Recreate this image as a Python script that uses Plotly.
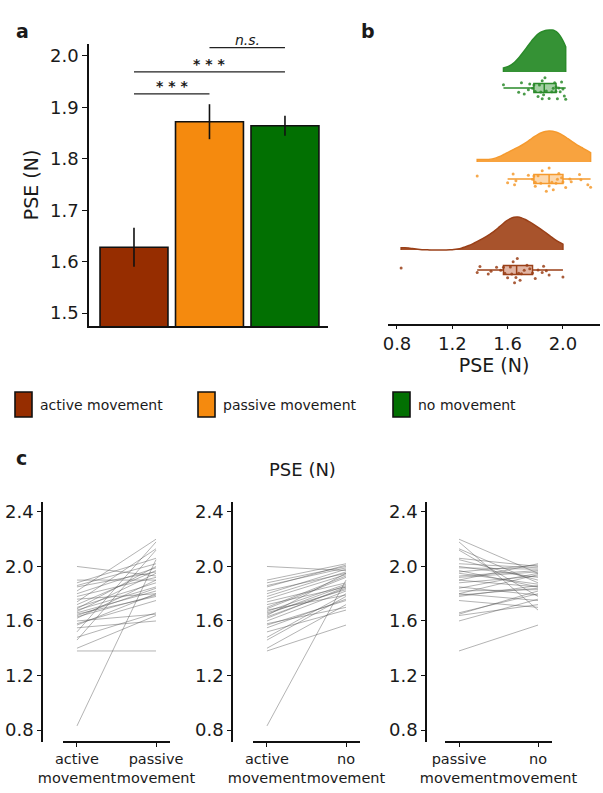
import plotly.graph_objects as go

# ---------------- data ----------------
conditions = ["active movement", "passive movement", "no movement"]
bar_colors = ["#962d00", "#f58a0e", "#027002"]
violin_fill = ["#a8532c", "#f8a33f", "#359235"]
violin_line = ["#9a4018", "#f59a2e", "#2a8a2a"]
box_fill = ["rgba(200,120,90,0.55)", "rgba(250,190,120,0.6)", "rgba(90,170,90,0.55)"]

mean_pse = [1.628, 1.872, 1.864]
sem_pse = [0.038, 0.034, 0.0195]

sig_pairs = [(0, 1), (0, 2), (1, 2)]
sig_levels = [1.926, 1.969, 2.016]
sig_labels = ["<b>* * *</b>", "<b>* * *</b>", "<i>n.s.</i>"]

active = [0.83, 1.38, 1.40, 1.46, 1.48, 1.52, 1.55, 1.57, 1.58, 1.60,
          1.62, 1.63, 1.64, 1.65, 1.66, 1.67, 1.68, 1.69, 1.70, 1.72,
          1.74, 1.76, 1.78, 1.80, 1.82, 1.85, 1.86, 1.88, 1.90, 2.00]
passive = [2.05, 1.38, 1.64, 2.12, 1.66, 2.18, 1.60, 1.80, 1.75, 1.65,
           1.90, 1.79, 1.84, 1.78, 1.82, 1.95, 1.85, 2.00, 1.88, 1.97,
           2.13, 1.80, 1.92, 1.99, 2.20, 1.96, 2.02, 2.06, 1.90, 1.93]
nomove = [1.90, 1.57, 1.72, 1.78, 1.80, 1.68, 1.76, 1.75, 1.70, 1.82,
          1.85, 1.84, 1.95, 1.86, 1.83, 1.87, 1.79, 1.92, 1.93, 1.85,
          1.88, 1.94, 1.96, 1.98, 1.95, 2.01, 1.99, 2.00, 2.02, 1.97]
per_condition = [active, passive, nomove]

pair_panels = [(0, 1), (0, 2), (1, 2)]
pair_ticktext = [["active<br>movement", "passive<br>movement"],
                 ["active<br>movement", "no<br>movement"],
                 ["passive<br>movement", "no<br>movement"]]

c_yticks = [0.8, 1.2, 1.6, 2.0, 2.4]
a_yticks = [1.5, 1.6, 1.7, 1.8, 1.9, 2.0]
b_xticks = [0.8, 1.2, 1.6, 2.0]

# ---------------- layout helpers ----------------
W, H = 603, 793
FONT = "DejaVu Sans"
TXT = "#1a1a1a"


def fx(px):
    return px / W


def fy(py):
    return 1 - py / H


fig = go.Figure()

# ---------------- panel a: bars ----------------
fig.add_trace(go.Bar(
    x=[0, 1, 2], y=mean_pse, width=0.9,
    marker=dict(color=bar_colors, line=dict(color="#111", width=1.6)),
    error_y=dict(type="data", array=sem_pse, color="#111", thickness=1.6, width=0),
    xaxis="x", yaxis="y", showlegend=False))

# ---------------- panel b: raincloud ----------------
violin_pos = [74, 162, 252]
violin_width = [66, 62, 84]
box_pos = [54, 145, 236]
for i, vals in enumerate(per_condition):
    fig.add_trace(go.Violin(
        x=vals, y0=violin_pos[i], orientation="h", side="positive",
        width=violin_width[i],
        spanmode="hard", points=False, box_visible=False, meanline_visible=False,
        fillcolor=violin_fill[i], line=dict(color=violin_line[i], width=1.5),
        opacity=1, xaxis="x2", yaxis="y2", showlegend=False, hoverinfo="skip"))
    fig.add_trace(go.Box(
        x=vals, y0=box_pos[i], orientation="h", width=9, boxpoints="outliers",
        whiskerwidth=0, fillcolor=box_fill[i],
        marker=dict(opacity=0, size=1),
        line=dict(color=violin_line[i], width=1.5),
        xaxis="x2", yaxis="y2", showlegend=False))
    fig.add_trace(go.Box(
        x=vals, y0=box_pos[i], orientation="h", width=26, boxpoints="all",
        jitter=1, pointpos=0, fillcolor="rgba(0,0,0,0)",
        line=dict(color="rgba(0,0,0,0)", width=0),
        marker=dict(color=violin_line[i], size=3, opacity=0.85),
        xaxis="x2", yaxis="y2", showlegend=False))

# ---------------- panel c: paired lines ----------------
for k, (ia, ib) in enumerate(pair_panels):
    xs, ys = [], []
    for va, vb in zip(per_condition[ia], per_condition[ib]):
        xs += [0, 1, None]
        ys += [va, vb, None]
    fig.add_trace(go.Scatter(
        x=xs, y=ys, mode="lines",
        line=dict(color="rgba(80,80,80,0.55)", width=0.8),
        xaxis=f"x{k + 3}", yaxis=f"y{k + 3}", showlegend=False, hoverinfo="skip"))

tick_font = dict(family=FONT, size=18, color=TXT)
title_font = dict(family=FONT, size=19, color=TXT)

layout = dict(
    width=W, height=H, margin=dict(l=0, r=0, t=0, b=0, autoexpand=False),
    plot_bgcolor="white", paper_bgcolor="white",
    font=dict(family=FONT, color=TXT),
    violinmode="overlay", boxmode="overlay",
    # panel a
    xaxis=dict(domain=[fx(89), fx(328)], range=[-0.596, 2.57], showline=True,
               linecolor="#111", linewidth=1.6, showticklabels=False, ticks="",
               showgrid=False, zeroline=False, anchor="y", automargin=False),
    yaxis=dict(domain=[fy(326), fy(44)], range=[1.475, 2.023], showline=True,
               linecolor="#111", linewidth=1.6, tickvals=a_yticks,
               ticktext=[f"{v:.1f}" for v in a_yticks], ticks="outside",
               ticklen=5, tickcolor="#111", tickfont=tick_font,
               showgrid=False, zeroline=False, anchor="x", automargin=False,
               title=dict(text="PSE (N)", font=title_font, standoff=6)),
    # panel b
    xaxis2=dict(domain=[fx(388), fx(600)], range=[0.735, 2.268], showline=True,
                linecolor="#111", linewidth=1.6, tickvals=b_xticks,
                ticktext=[f"{v:.1f}" for v in b_xticks], ticks="outside", ticklen=3,
                tickcolor="#111", tickfont=tick_font, showgrid=False, zeroline=False,
                anchor="y2", automargin=False,
                title=dict(text="PSE (N)", font=title_font, standoff=4)),
    yaxis2=dict(domain=[fy(324), fy(15)], range=[0, 309], visible=False, anchor="x2",
                automargin=False),
)

c_x_dom = [(43, 170), (233, 360), (427, 552)]
c_x_rng = [(-0.430, 1.177), (-0.430, 1.177), (-0.405, 1.177)]
for k in range(3):
    n = k + 3
    layout[f"xaxis{n}"] = dict(
        domain=[fx(c_x_dom[k][0]), fx(c_x_dom[k][1])], range=list(c_x_rng[k]),
        showline=False, tickvals=[0, 1], ticktext=pair_ticktext[k], ticks="outside",
        ticklen=4, tickcolor="#111", tickangle=0, automargin=False,
        tickfont=dict(family=FONT, size=14.5, color=TXT), showgrid=False,
        zeroline=False, anchor=f"y{n}")
    layout[f"yaxis{n}"] = dict(
        domain=[fy(742), fy(502)], range=[0.712, 2.473], showline=True,
        linecolor="#111", linewidth=1.6, tickvals=c_yticks,
        ticktext=[f"{v:.1f}" for v in c_yticks], ticks="outside", ticklen=4,
        tickcolor="#111", tickfont=tick_font, automargin=False,
        showgrid=False, zeroline=False, anchor=f"x{n}")

fig.update_layout(**layout)

shapes = []
annotations = []

# significance brackets in panel a
for (i0, i1), lvl, lab in zip(sig_pairs, sig_levels, sig_labels):
    shapes.append(dict(type="line", xref="x", yref="y", x0=i0, x1=i1, y0=lvl, y1=lvl,
                       line=dict(color="#222", width=1.3)))
    annotations.append(dict(xref="x", yref="y", x=(i0 + i1) / 2, y=lvl, text=lab,
                            showarrow=False, yanchor="bottom", yshift=-2,
                            font=dict(family=FONT, size=14, color=TXT)))

# detached x-axis lines in panel c
for (x0, x1) in [(63, 170), (253, 360), (445, 552)]:
    shapes.append(dict(type="line", xref="paper", yref="paper", x0=fx(x0), x1=fx(x1),
                       y0=fy(742), y1=fy(742), line=dict(color="#111", width=1.8)))

# legend
leg_box_x = [15, 198, 393]
for i, name in enumerate(conditions):
    shapes.append(dict(type="rect", xref="paper", yref="paper",
                       x0=fx(leg_box_x[i]), x1=fx(leg_box_x[i] + 17),
                       y0=fy(417), y1=fy(392), fillcolor=bar_colors[i],
                       line=dict(color="#111", width=1.6)))
    annotations.append(dict(xref="paper", yref="paper", x=fx(leg_box_x[i] + 23), y=fy(405),
                            text=name, showarrow=False, xanchor="left", yanchor="middle",
                            font=dict(family=FONT, size=14, color=TXT)))

# panel labels and titles
for lab, px, py in [("a", 14, 18), ("b", 368, 18), ("c", 14, 458)]:
    annotations.append(dict(xref="paper", yref="paper", x=fx(px), y=fy(py),
                            text=f"<b>{lab}</b>", showarrow=False,
                            font=dict(family=FONT, size=19, color=TXT)))
annotations.append(dict(xref="paper", yref="paper", x=fx(302), y=fy(469), text="PSE (N)",
                        showarrow=False, font=dict(family=FONT, size=18, color=TXT)))

fig.update_layout(shapes=shapes, annotations=annotations)
fig.write_html("out.html")
